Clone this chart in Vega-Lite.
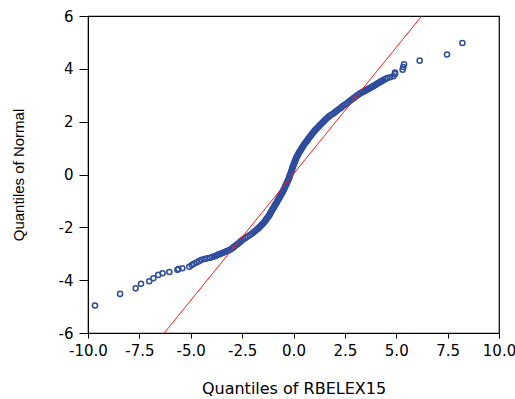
{
  "$schema": "https://vega.github.io/schema/vega-lite/v6.json",
  "width": 411,
  "height": 317,
  "autosize": {"type": "none"},
  "padding": {"left": 88, "top": 16, "right": 16, "bottom": 66},
  "background": "white",
  "config": {
    "view": {"stroke": "black", "strokeWidth": 1.2},
    "axis": {
      "grid": false,
      "domainColor": "black",
      "tickColor": "black",
      "labelColor": "black",
      "titleColor": "black",
      "labelFont": "DejaVu Sans",
      "labelFontSize": 15,
      "titleFontWeight": "normal"
    }
  },
  "datasets": {
    "qq": [
      {"x": -9.66, "y": -4.96}, {"x": -8.44, "y": -4.52}, {"x": -7.68, "y": -4.31}, {"x": -7.42, "y": -4.14},
      {"x": -7.02, "y": -4.04}, {"x": -6.82, "y": -3.93}, {"x": -6.58, "y": -3.8}, {"x": -6.37, "y": -3.74},
      {"x": -6.04, "y": -3.69}, {"x": -5.65, "y": -3.61}, {"x": -5.6, "y": -3.58}, {"x": -5.41, "y": -3.55},
      {"x": -5.07, "y": -3.49}, {"x": -4.95, "y": -3.43}, {"x": -4.85, "y": -3.38}, {"x": -4.72, "y": -3.33},
      {"x": -4.6, "y": -3.28},
      {"x": -4.47, "y": -3.225}, {"x": -4.33, "y": -3.2}, {"x": -4.2, "y": -3.175}, {"x": -4.06, "y": -3.15},
      {"x": -3.96, "y": -3.125}, {"x": -3.86, "y": -3.1}, {"x": -3.78, "y": -3.075}, {"x": -3.7, "y": -3.05},
      {"x": -3.63, "y": -3.025}, {"x": -3.55, "y": -3.0}, {"x": -3.47, "y": -2.975}, {"x": -3.39, "y": -2.95},
      {"x": -3.31, "y": -2.925}, {"x": -3.24, "y": -2.9}, {"x": -3.16, "y": -2.875}, {"x": -3.09, "y": -2.85},
      {"x": -3.0, "y": -2.8}, {"x": -2.91, "y": -2.75}, {"x": -2.83, "y": -2.7}, {"x": -2.75, "y": -2.65},
      {"x": -2.67, "y": -2.6}, {"x": -2.59, "y": -2.55}, {"x": -2.52, "y": -2.5}, {"x": -2.44, "y": -2.45},
      {"x": -2.34, "y": -2.4}, {"x": -2.24, "y": -2.35}, {"x": -2.14, "y": -2.3}, {"x": -2.05, "y": -2.25},
      {"x": -1.96, "y": -2.2}, {"x": -1.88, "y": -2.15}, {"x": -1.81, "y": -2.1}, {"x": -1.73, "y": -2.05},
      {"x": -1.66, "y": -2.0}, {"x": -1.6, "y": -1.95}, {"x": -1.54, "y": -1.9}, {"x": -1.47, "y": -1.85},
      {"x": -1.42, "y": -1.8}, {"x": -1.37, "y": -1.75}, {"x": -1.33, "y": -1.7}, {"x": -1.28, "y": -1.65},
      {"x": -1.23, "y": -1.6}, {"x": -1.19, "y": -1.55}, {"x": -1.15, "y": -1.5}, {"x": -1.11, "y": -1.45},
      {"x": -1.08, "y": -1.4}, {"x": -1.04, "y": -1.35}, {"x": -1.0, "y": -1.3}, {"x": -0.96, "y": -1.25},
      {"x": -0.93, "y": -1.2}, {"x": -0.89, "y": -1.15}, {"x": -0.85, "y": -1.1}, {"x": -0.81, "y": -1.05},
      {"x": -0.78, "y": -1.0}, {"x": -0.74, "y": -0.95}, {"x": -0.7, "y": -0.9}, {"x": -0.67, "y": -0.85},
      {"x": -0.63, "y": -0.8}, {"x": -0.59, "y": -0.75}, {"x": -0.56, "y": -0.7}, {"x": -0.52, "y": -0.65},
      {"x": -0.49, "y": -0.6}, {"x": -0.46, "y": -0.55}, {"x": -0.43, "y": -0.5}, {"x": -0.4, "y": -0.45},
      {"x": -0.37, "y": -0.4}, {"x": -0.34, "y": -0.35}, {"x": -0.31, "y": -0.3}, {"x": -0.28, "y": -0.25},
      {"x": -0.25, "y": -0.2}, {"x": -0.23, "y": -0.15}, {"x": -0.2, "y": -0.1}, {"x": -0.18, "y": -0.05},
      {"x": -0.16, "y": 0.0}, {"x": -0.13, "y": 0.05}, {"x": -0.11, "y": 0.1}, {"x": -0.09, "y": 0.15},
      {"x": -0.07, "y": 0.2}, {"x": -0.05, "y": 0.25}, {"x": -0.03, "y": 0.3}, {"x": 0.0, "y": 0.35},
      {"x": 0.02, "y": 0.4}, {"x": 0.05, "y": 0.45}, {"x": 0.07, "y": 0.5}, {"x": 0.1, "y": 0.55},
      {"x": 0.12, "y": 0.6}, {"x": 0.15, "y": 0.65}, {"x": 0.18, "y": 0.7}, {"x": 0.22, "y": 0.75},
      {"x": 0.25, "y": 0.8}, {"x": 0.29, "y": 0.85}, {"x": 0.33, "y": 0.9}, {"x": 0.37, "y": 0.95},
      {"x": 0.41, "y": 1.0}, {"x": 0.45, "y": 1.05}, {"x": 0.49, "y": 1.1}, {"x": 0.53, "y": 1.15},
      {"x": 0.58, "y": 1.2}, {"x": 0.63, "y": 1.25}, {"x": 0.68, "y": 1.3}, {"x": 0.72, "y": 1.35},
      {"x": 0.77, "y": 1.4}, {"x": 0.82, "y": 1.45}, {"x": 0.87, "y": 1.5}, {"x": 0.92, "y": 1.55},
      {"x": 0.97, "y": 1.6}, {"x": 1.02, "y": 1.65}, {"x": 1.08, "y": 1.7}, {"x": 1.14, "y": 1.75},
      {"x": 1.2, "y": 1.8}, {"x": 1.26, "y": 1.85}, {"x": 1.33, "y": 1.9}, {"x": 1.39, "y": 1.95},
      {"x": 1.46, "y": 2.0}, {"x": 1.52, "y": 2.05}, {"x": 1.59, "y": 2.1}, {"x": 1.65, "y": 2.15},
      {"x": 1.73, "y": 2.2}, {"x": 1.82, "y": 2.25}, {"x": 1.92, "y": 2.3}, {"x": 2.01, "y": 2.35},
      {"x": 2.09, "y": 2.4}, {"x": 2.17, "y": 2.45}, {"x": 2.26, "y": 2.5}, {"x": 2.34, "y": 2.55},
      {"x": 2.42, "y": 2.6}, {"x": 2.51, "y": 2.65}, {"x": 2.61, "y": 2.7}, {"x": 2.69, "y": 2.75},
      {"x": 2.77, "y": 2.8}, {"x": 2.85, "y": 2.85}, {"x": 2.94, "y": 2.9}, {"x": 3.03, "y": 2.95},
      {"x": 3.11, "y": 3.0}, {"x": 3.2, "y": 3.05}, {"x": 3.25, "y": 3.075}, {"x": 3.31, "y": 3.1},
      {"x": 3.37, "y": 3.125}, {"x": 3.43, "y": 3.15}, {"x": 3.49, "y": 3.175}, {"x": 3.55, "y": 3.2},
      {"x": 3.61, "y": 3.225}, {"x": 3.67, "y": 3.25}, {"x": 3.73, "y": 3.275}, {"x": 3.79, "y": 3.3},
      {"x": 3.84, "y": 3.325}, {"x": 3.9, "y": 3.35}, {"x": 3.95, "y": 3.375}, {"x": 4.0, "y": 3.4},
      {"x": 4.05, "y": 3.425}, {"x": 4.1, "y": 3.45}, {"x": 4.16, "y": 3.475}, {"x": 4.21, "y": 3.5},
      {"x": 4.27, "y": 3.525}, {"x": 4.32, "y": 3.55}, {"x": 4.37, "y": 3.575},
      {"x": 4.46, "y": 3.61}, {"x": 4.56, "y": 3.65}, {"x": 4.7, "y": 3.68}, {"x": 4.86, "y": 3.72},
      {"x": 4.94, "y": 3.8}, {"x": 4.94, "y": 3.86}, {"x": 5.31, "y": 3.97}, {"x": 5.34, "y": 4.07},
      {"x": 5.38, "y": 4.17}, {"x": 6.14, "y": 4.31}, {"x": 7.47, "y": 4.54}, {"x": 8.22, "y": 4.98}
    ],
    "ref": [
      {"x": -6.29, "y": -6.0},
      {"x": 6.24, "y": 6.0}
    ]
  },
  "layer": [
    {
      "data": {"name": "qq"},
      "mark": {"type": "point", "shape": "circle", "filled": false, "size": 26, "strokeWidth": 1.5, "color": "#2E4D9E", "opacity": 1},
      "encoding": {
        "x": {
          "field": "x", "type": "quantitative",
          "scale": {"domain": [-10, 10], "nice": false, "zero": false},
          "axis": {
            "values": [-10, -7.5, -5, -2.5, 0, 2.5, 5, 7.5, 10],
            "format": ".1f",
            "labelExpr": "replace(datum.label, '\u2212', '-')",
            "tickSize": 5,
            "labelPadding": 5,
            "labelFlush": false,
            "labelOverlap": false,
            "title": "Quantiles of RBELEX15",
            "titleFont": "DejaVu Sans",
            "titleFontSize": 16,
            "titlePadding": 22
          }
        },
        "y": {
          "field": "y", "type": "quantitative",
          "scale": {"domain": [-6, 6], "nice": false, "zero": false},
          "axis": {
            "values": [-6, -4, -2, 0, 2, 4, 6],
            "labelExpr": "replace(datum.label, '\u2212', '-')",
            "tickSize": 9,
            "labelPadding": 6,
            "labelFlush": false,
            "labelOverlap": false,
            "title": "Quantiles of Normal",
            "titleFont": "Liberation Sans",
            "titleFontSize": 15,
            "titlePadding": 32
          }
        }
      }
    },
    {
      "data": {"name": "ref"},
      "mark": {"type": "line", "color": "#FF1A1A", "strokeWidth": 1, "clip": true},
      "encoding": {
        "x": {"field": "x", "type": "quantitative"},
        "y": {"field": "y", "type": "quantitative"}
      }
    }
  ]
}
